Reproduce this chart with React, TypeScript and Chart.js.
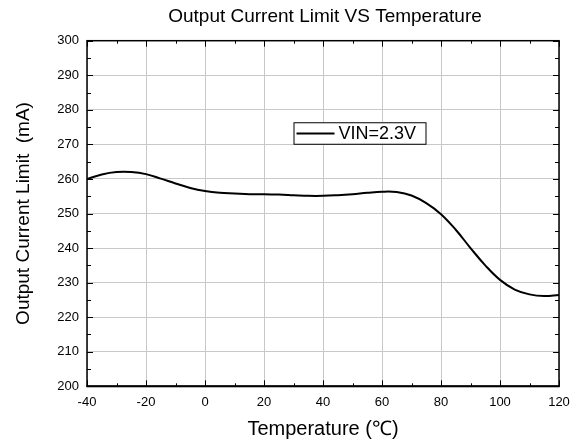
import React, { useEffect, useRef } from "react";
import { Chart, registerables } from "chart.js";

Chart.register(...registerables);

const TITLE = "Output Current Limit VS Temperature";
const X_TITLE = "Temperature (℃)";
const Y_TITLE = "Output Current Limit  (mA)";
const SERIES_LABEL = "VIN=2.3V";

const temperatures = [
  -40, -35, -30, -25, -20, -15, -10, -5, 0, 5, 10, 15, 20, 25, 30, 35, 40, 45,
  50, 55, 60, 65, 70, 75, 80, 85, 90, 95, 100, 105, 110, 115, 120,
];
const currentLimit = [
  260.0, 261.3, 262.0, 262.0, 261.4, 260.1, 258.7, 257.4, 256.5, 256.0, 255.8,
  255.6, 255.6, 255.5, 255.3, 255.1, 255.1, 255.3, 255.6, 256.0, 256.3, 256.2,
  255.2, 253.0, 249.8, 245.3, 240.0, 235.0, 230.8, 228.0, 226.6, 226.1, 226.4,
];
const xTicks = [-40, -20, 0, 20, 40, 60, 80, 100, 120];
const yTicks = [200, 210, 220, 230, 240, 250, 260, 270, 280, 290, 300];
const xMinorTicks = [-30, -10, 10, 30, 50, 70, 90, 110];
const yMinorTicks = [205, 215, 225, 235, 245, 255, 265, 275, 285, 295];

const FONT = '"Liberation Sans", Arial, sans-serif';

const decorPlugin = {
  id: "decor",
  afterDatasetsDraw(chart: any) {
    const { ctx, chartArea, scales } = chart;
    const { left, right, top, bottom } = chartArea;
    const xs = scales.x;
    const ys = scales.y;
    ctx.save();
    ctx.strokeStyle = "#000";
    ctx.lineWidth = 1;
    ctx.beginPath();
    const xt = (v: number, len: number) => {
      const px = Math.round(xs.getPixelForValue(v)) + 0.5;
      ctx.moveTo(px, bottom);
      ctx.lineTo(px, bottom - len);
      ctx.moveTo(px, top);
      ctx.lineTo(px, top + len);
    };
    const yt = (v: number, len: number) => {
      const py = Math.round(ys.getPixelForValue(v)) + 0.5;
      ctx.moveTo(left, py);
      ctx.lineTo(left + len, py);
      ctx.moveTo(right, py);
      ctx.lineTo(right - len, py);
    };
    xTicks.forEach((v) => xt(v, 6));
    xMinorTicks.forEach((v) => xt(v, 3));
    yTicks.forEach((v) => yt(v, 6));
    yMinorTicks.forEach((v) => yt(v, 4));
    ctx.stroke();

    ctx.lineWidth = 1.5;
    ctx.strokeRect(left, top, right - left, bottom - top);
    ctx.lineWidth = 2;
    ctx.beginPath();
    ctx.moveTo(left - 0.5, bottom);
    ctx.lineTo(right + 0.5, bottom);
    ctx.stroke();

    // title
    ctx.fillStyle = "#000";
    ctx.font = `19px ${FONT}`;
    ctx.textAlign = "center";
    ctx.textBaseline = "alphabetic";
    ctx.fillText(TITLE, (left + right) / 2 + 2, 22);

    // legend
    const ds = chart.data.datasets[0];
    const bx = xs.getPixelForValue(30);
    const by = ys.getPixelForValue(276.4);
    const bw = 132;
    const bh = 21.5;
    ctx.fillStyle = "#fff";
    ctx.fillRect(bx, by, bw, bh);
    ctx.lineWidth = 1;
    ctx.strokeStyle = "#000";
    ctx.strokeRect(bx + 0.5, by + 0.5, bw, bh);
    ctx.lineWidth = 2;
    ctx.beginPath();
    ctx.moveTo(bx + 3, by + bh / 2 + 0.5);
    ctx.lineTo(bx + 41, by + bh / 2 + 0.5);
    ctx.stroke();
    ctx.fillStyle = "#000";
    ctx.font = `18px ${FONT}`;
    ctx.textAlign = "left";
    ctx.textBaseline = "middle";
    ctx.fillText(ds.label, bx + 45, by + bh / 2 + 1);
    ctx.restore();
  },
};

export default function App() {
  const ref = useRef<HTMLCanvasElement>(null);
  useEffect(() => {
    document.body.style.margin = "0";
    const canvas = ref.current;
    if (!canvas) return;
    const chart = new Chart(canvas, {
      type: "line",
      data: {
        datasets: [
          {
            label: SERIES_LABEL,
            data: temperatures.map((t, i) => ({ x: t, y: currentLimit[i] })),
            borderColor: "#000",
            borderWidth: 2,
            pointRadius: 0,
            tension: 0.4,
            fill: false,
          },
        ],
      },
      options: {
        responsive: false,
        animation: false,
        devicePixelRatio: window.devicePixelRatio || 1,
        layout: { padding: { top: 40.7, right: 21, left: 0, bottom: 0 } },
        plugins: {
          legend: { display: false },
          title: { display: false },
          tooltip: { enabled: false },
        },
        scales: {
          x: {
            type: "linear",
            min: -40,
            max: 120,
            afterBuildTicks: (scale: any) => {
              scale.ticks = xTicks.map((v) => ({ value: v }));
            },
            afterFit: (scale: any) => {
              scale.height = 55.7;
            },
            grid: { color: "#c8c8c8", lineWidth: 1, drawTicks: false },
            border: { display: false },
            ticks: {
              padding: 8,
              color: "#000",
              font: { family: FONT, size: 13 },
              maxRotation: 0,
            },
            title: {
              display: true,
              text: X_TITLE,
              color: "#000",
              font: { family: FONT, size: 20 },
              padding: { top: 0, bottom: 1 },
            },
          },
          y: {
            type: "linear",
            min: 200,
            max: 300,
            afterBuildTicks: (scale: any) => {
              scale.ticks = yTicks.map((v) => ({ value: v }));
            },
            afterFit: (scale: any) => {
              scale.width = 87;
            },
            grid: { color: "#c8c8c8", lineWidth: 1, drawTicks: false },
            border: { display: false },
            ticks: {
              padding: 8,
              color: "#000",
              font: { family: FONT, size: 13 },
            },
            title: {
              display: true,
              text: Y_TITLE,
              color: "#000",
              font: { family: FONT, size: 19 },
              padding: { top: 12.5, bottom: 0 },
            },
          },
        },
      },
      plugins: [decorPlugin],
    });
    return () => chart.destroy();
  }, []);
  return (
    <div style={{ width: 580, height: 442, background: "#fff" }}>
      <canvas ref={ref} width={580} height={442} style={{ display: "block" }} />
    </div>
  );
}
